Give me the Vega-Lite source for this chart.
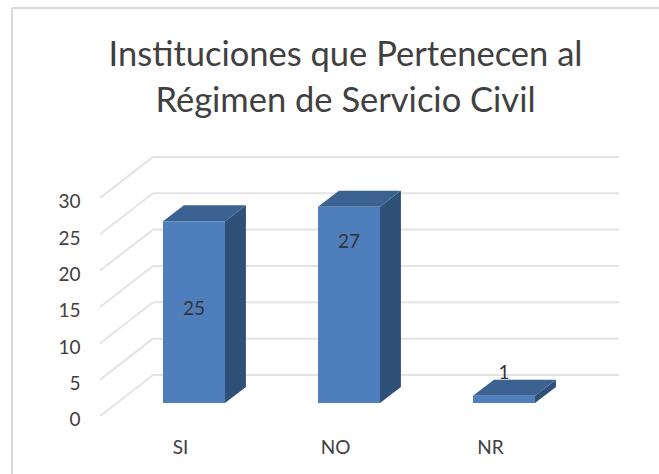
{
"$schema":"https://vega.github.io/schema/vega-lite/v6.json",
"width":659,"height":474,"padding":0,"autosize":{"type":"none"},
"background":"white",
"config":{"view":{"stroke":null},"font":"Lato"},
"title":{"text":["Instituciones que Pertenecen al","Régimen de Servicio Civil"],"font":"Lato","fontSize":34.5,"fontWeight":"normal","color":"#404040","anchor":"middle","frame":"group","lineHeight":46,"orient":"top","offset":-119,"dx":16},
"datasets":{
"valores":[{"respuesta":"SI","pos":0,"instituciones":25},{"respuesta":"NO","pos":1,"instituciones":27},{"respuesta":"NR","pos":2,"instituciones":1}],
"marcas":[{"t":0},{"t":5},{"t":10},{"t":15},{"t":20},{"t":25},{"t":30}]
},
"resolve":{"scale":{"x":"shared","y":"shared"}},
"layer":[
{"data":{"values":[{}]},"mark":{"type":"rule","color":"#d9d9d9","strokeWidth":2},
 "encoding":{"x":{"datum":-1.1742,"type":"quantitative","scale":{"domain":[-1.2516,3],"nice":false,"zero":false},
   "axis":{"title":null,"values":[0,1,2],"labelExpr":"['SI','NO','NR'][datum.value]","domain":false,"ticks":false,"grid":false,"labelFont":"Lato","labelFontSize":19,"labelColor":"#404040","labelPadding":0,"offset":-36,"labelOffset":-14,"labelFlush":false}},
  "y":{"datum":54.33,"type":"quantitative","scale":{"domain":[-9.77,55.43],"nice":false,"zero":false},
   "axis":{"title":null,"values":[0,5,10,15,20,25,30],"domain":false,"ticks":false,"grid":false,"labelFont":"Lato","labelFontSize":19,"labelColor":"#404040","labelPadding":0,"offset":-80,"labelOffset":17,"labelFlush":false}},
  "y2":{"datum":-9.77}}},
{"data":{"values":[{}]},"mark":{"type":"rule","color":"#d9d9d9","strokeWidth":2},
 "encoding":{"x":{"datum":-1.1742,"type":"quantitative"},"x2":{"datum":3},"y":{"datum":54.33,"type":"quantitative"}}},
{"data":{"name":"marcas"},"transform":[{"calculate":"datum.t+3.85","as":"yw"}],"mark":{"type":"rule","color":"#e4e4e4","strokeWidth":2},
 "encoding":{"x":{"datum":-0.2645,"type":"quantitative"},"x2":{"datum":2.742},"y":{"field":"yw","type":"quantitative"}}},
{"data":{"name":"marcas"},"transform":[{"calculate":"datum.t+3.85","as":"yw"},{"calculate":"datum.t-1.79","as":"yf"}],"mark":{"type":"rule","color":"#e4e4e4","strokeWidth":2},
 "encoding":{"x":{"datum":-0.606,"type":"quantitative"},"x2":{"datum":-0.2645},"y":{"field":"yf","type":"quantitative"},"y2":{"field":"yw"}}},
{"data":{"name":"valores"},
 "transform":[{"calculate":"0","as":"a"},{"calculate":"1","as":"b"},{"fold":["a","b"],"as":["k","d"]},{"calculate":"datum.pos+0.2+0.135*datum.d","as":"xs"},{"calculate":"2.2*datum.d","as":"y0"},{"calculate":"datum.instituciones+2.2*datum.d","as":"y1"}],
 "mark":{"type":"area","color":"#2f5178"},
 "encoding":{"x":{"field":"xs","type":"quantitative"},"y":{"field":"y1","type":"quantitative"},"y2":{"field":"y0"},"detail":{"field":"respuesta"}}},
{"data":{"name":"valores"},
 "transform":[{"calculate":"0","as":"a"},{"calculate":"1","as":"b"},{"fold":["a","b"],"as":["k","d"]},{"calculate":"datum.pos-0.2+0.135*datum.d","as":"x0"},{"calculate":"datum.pos+0.2+0.135*datum.d","as":"x1"},{"calculate":"datum.instituciones+2.2*datum.d","as":"yt"}],
 "mark":{"type":"area","orient":"horizontal","color":"#3b6290"},
 "encoding":{"y":{"field":"yt","type":"quantitative"},"x":{"field":"x0","type":"quantitative"},"x2":{"field":"x1"},"detail":{"field":"respuesta"}}},
{"data":{"name":"valores"},
 "transform":[{"calculate":"datum.pos-0.2","as":"x0"},{"calculate":"datum.pos+0.2","as":"x1"},{"calculate":"0","as":"base"}],
 "mark":{"type":"rect","color":"#4e7ebb"},
 "encoding":{
  "x":{"field":"x0","type":"quantitative"},
  "x2":{"field":"x1"},
  "y":{"field":"instituciones","type":"quantitative"},
  "y2":{"field":"base"}}},
{"data":{"name":"valores"},
 "transform":[{"calculate":"{'SI':12.9,'NO':22.2,'NR':4.1}[datum.respuesta]","as":"yl"}],
 "mark":{"type":"text","font":"Lato","fontSize":19,"color":"#333333","baseline":"middle"},
 "encoding":{"x":{"field":"pos","type":"quantitative"},"y":{"field":"yl","type":"quantitative"},"text":{"field":"instituciones"}}}
]
}
